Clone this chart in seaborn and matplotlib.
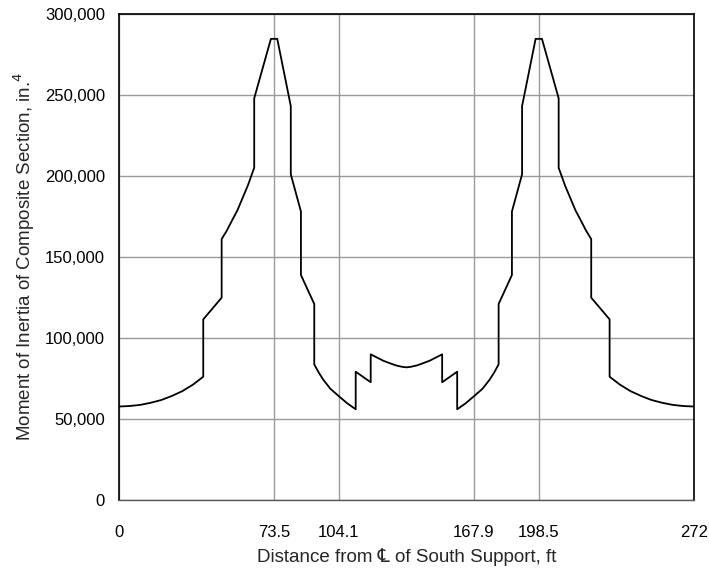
import pandas as pd
import seaborn as sns
import matplotlib.pyplot as plt
from matplotlib.ticker import FuncFormatter

# distance from CL of south support (ft) and moment of inertia (in.^4)
distance = [0, 5, 10, 15, 20, 25, 30, 35, 39.9, 39.9, 48.6, 48.6, 51, 53.6, 56, 58.1, 61,
            64.0, 64.0, 71.9, 74.9, 81.3, 81.3, 86.1, 86.1, 92.4, 92.4, 94.5, 96.7, 100,
            104.1, 108, 112, 112, 119.1, 119.1, 122, 125, 128.2, 131, 134, 136,
            138, 141, 143.8, 147, 150, 152.9, 152.9, 160, 160, 164, 167.9, 172, 175.3,
            177.5, 179.6, 179.6, 185.9, 185.9, 190.7, 190.7, 197.1, 200.1, 208, 208, 211,
            213.9, 216, 218.4, 221, 223.4, 223.4, 232.1, 232.1, 237, 242, 247, 252, 257,
            262, 267, 272]
inertia = [57500, 57800, 58500, 59800, 61500, 64000, 67000, 71000, 75900, 111300, 124700,
           160900, 166000, 172600, 178500, 185000, 194000, 204900, 247800, 284500, 284500,
           243000, 200900, 177900, 138700, 120800, 83500, 78500, 74000, 68500, 63800, 59500,
           55800, 79000, 72500, 89700, 87800, 85800, 84200, 82900, 82000, 81700,
           82000, 82900, 84200, 85800, 87800, 89700, 72500, 79000, 55800, 59500, 63800,
           68500, 74000, 78500, 83500, 120800, 138700, 177900, 200900, 243000, 284500,
           284500, 247800, 204900, 194000, 185000, 178500, 172600, 166000, 160900, 124700,
           111300, 75900, 71000, 67000, 64000, 61500, 59800, 58500, 57800, 57500]

x_ticks = [0, 73.5, 104.1, 167.9, 198.5, 272]
y_ticks = [0, 50000, 100000, 150000, 200000, 250000, 300000]

df = pd.DataFrame({'distance': distance, 'inertia': inertia})

sns.set_style('white')
plt.rcParams['font.family'] = ['Liberation Sans', 'DejaVu Sans']

fig = plt.figure(figsize=(7.09, 5.73), dpi=100)
ax = fig.add_axes([0.1677, 0.128, 0.8111, 0.848])

sns.lineplot(data=df, x='distance', y='inertia', sort=False, estimator=None,
             color='black', linewidth=1.3, ax=ax)

ax.set_xlim(0, 272)
ax.set_ylim(0, 300000)
ax.set_xticks(x_ticks)
ax.set_xticklabels(['0', '73.5', '104.1', '167.9', '198.5', '272'])
ax.set_yticks(y_ticks)
ax.yaxis.set_major_formatter(FuncFormatter(lambda v, p: f'{int(v):,}'))
ax.grid(True, color='#9a9a9a', linewidth=1.0)
ax.set_axisbelow(True)

for s in ['left', 'right', 'top']:
    ax.spines[s].set_color('black')
    ax.spines[s].set_linewidth(1.2)
ax.spines['bottom'].set_color('#555555')
ax.spines['bottom'].set_linewidth(1.0)

ax.tick_params(axis='both', direction='out', length=5, width=1, labelsize=12,
               colors='black', pad=5)
ax.tick_params(axis='x', pad=13)

ax.set_xlabel('Distance from \u2104 of South Support, ft', fontsize=13.5, labelpad=6)
ax.set_ylabel('Moment of Inertia of Composite Section, in.$^4$', fontsize=13.5, labelpad=6)

fig.savefig('out.png', dpi=100)
